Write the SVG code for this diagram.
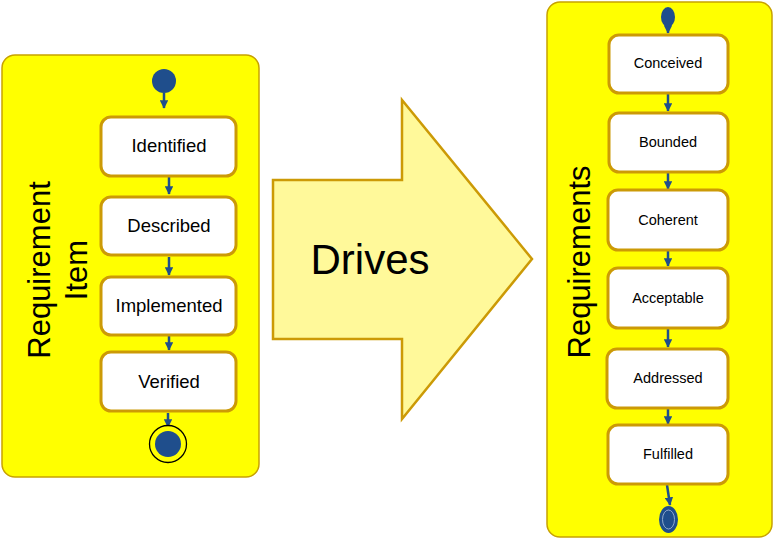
<svg xmlns="http://www.w3.org/2000/svg" width="774" height="539" viewBox="0 0 774 539">
<defs>
<style>
.cont{fill:#FFFF00;stroke:#C8A200;stroke-width:1.5}
.box{fill:#FFFFFF;stroke:#CC9A06;stroke-width:3}
.lt{font-family:"Liberation Sans",Arial,sans-serif;font-size:18.5px;fill:#000;text-anchor:middle}
.rt{font-family:"Liberation Sans",Arial,sans-serif;font-size:14.5px;fill:#000;text-anchor:middle}
.big{font-family:"Liberation Sans",Arial,sans-serif;font-size:31px;fill:#000;text-anchor:middle}
.edge{stroke:#1F4E8C;stroke-width:2.5;fill:none;marker-end:url(#ah)}
.dot{fill:#1F4E8C}
</style>
<marker id="ah" viewBox="0 0 10 10" refX="9" refY="5" markerWidth="3.4" markerHeight="3.4" orient="auto" markerUnits="strokeWidth">
<path d="M0,0 L10,5 L0,10 z" fill="#1F4E8C"/>
</marker>
</defs>
<rect width="774" height="539" fill="#FFFFFF"/>

<g id="left-container">
<rect class="cont" x="2" y="55" width="257" height="422" rx="13"/>
<text class="big" transform="translate(50,270) rotate(-90)">Requirement</text>
<text class="big" transform="translate(87,270) rotate(-90)">Item</text>
</g>

<g id="right-container">
<rect class="cont" x="547" y="2" width="225" height="535" rx="13"/>
<text class="big" transform="translate(590,262) rotate(-90)">Requirements</text>
</g>

<g id="drives">
<polygon points="273,180 402,180 402,100 532,259 402,419 402,339 273,339" fill="#FFF99A" stroke="#CC9A06" stroke-width="2.5"/>
<text x="370" y="274" font-family="'Liberation Sans',Arial,sans-serif" font-size="42" text-anchor="middle" fill="#000">Drives</text>
</g>

<g id="connectors">
<line class="edge" x1="164" y1="93" x2="164" y2="108"/>
<line class="edge" x1="169" y1="177" x2="169" y2="194"/>
<line class="edge" x1="169" y1="257" x2="169" y2="275"/>
<line class="edge" x1="169" y1="336" x2="169" y2="350"/>
<line class="edge" x1="168" y1="413" x2="168" y2="427"/>
<line class="edge" x1="668" y1="24" x2="668" y2="33"/>
<line class="edge" x1="668" y1="94" x2="668" y2="111"/>
<line class="edge" x1="668" y1="173" x2="668" y2="189"/>
<line class="edge" x1="668" y1="251" x2="668" y2="266"/>
<line class="edge" x1="668" y1="329" x2="668" y2="347"/>
<line class="edge" x1="668" y1="409" x2="668" y2="424"/>
<line class="edge" x1="667" y1="485" x2="670" y2="505"/>
</g>

<g id="left-start"><circle class="dot" cx="164" cy="81" r="12"/></g>
<g id="identified"><rect class="box" x="101" y="117" width="135" height="59" rx="10"/><text class="lt" x="169" y="152">Identified</text></g>
<g id="described"><rect class="box" x="101" y="197" width="135" height="58" rx="10"/><text class="lt" x="169" y="232">Described</text></g>
<g id="implemented"><rect class="box" x="101" y="277" width="135" height="58" rx="10"/><text class="lt" x="169" y="312">Implemented</text></g>
<g id="verified"><rect class="box" x="101" y="352" width="135" height="59" rx="10"/><text class="lt" x="169" y="388">Verified</text></g>
<g id="left-end"><circle cx="168" cy="444" r="18.5" fill="#FFFF00" stroke="#000" stroke-width="1.3"/><circle class="dot" cx="168" cy="444" r="13"/></g>

<g id="right-start"><ellipse class="dot" cx="668" cy="17" rx="7" ry="10"/></g>
<g id="conceived"><rect class="box" x="609" y="35" width="119" height="58" rx="10"/><text class="rt" x="668" y="68">Conceived</text></g>
<g id="bounded"><rect class="box" x="609" y="113" width="119" height="59" rx="10"/><text class="rt" x="668" y="147">Bounded</text></g>
<g id="coherent"><rect class="box" x="608" y="190" width="120" height="60" rx="10"/><text class="rt" x="668" y="225">Coherent</text></g>
<g id="acceptable"><rect class="box" x="608" y="268" width="120" height="60" rx="10"/><text class="rt" x="668" y="303">Acceptable</text></g>
<g id="addressed"><rect class="box" x="607" y="349" width="121" height="59" rx="10"/><text class="rt" x="668" y="383">Addressed</text></g>
<g id="fulfilled"><rect class="box" x="608" y="425" width="120" height="59" rx="10"/><text class="rt" x="668" y="459">Fulfilled</text></g>
<g id="right-end"><ellipse class="dot" cx="668.5" cy="519.5" rx="9.5" ry="13.5"/><ellipse cx="668.5" cy="519.5" rx="6" ry="9.5" fill="none" stroke="#8FA8CC" stroke-width="1"/></g>
</svg>
